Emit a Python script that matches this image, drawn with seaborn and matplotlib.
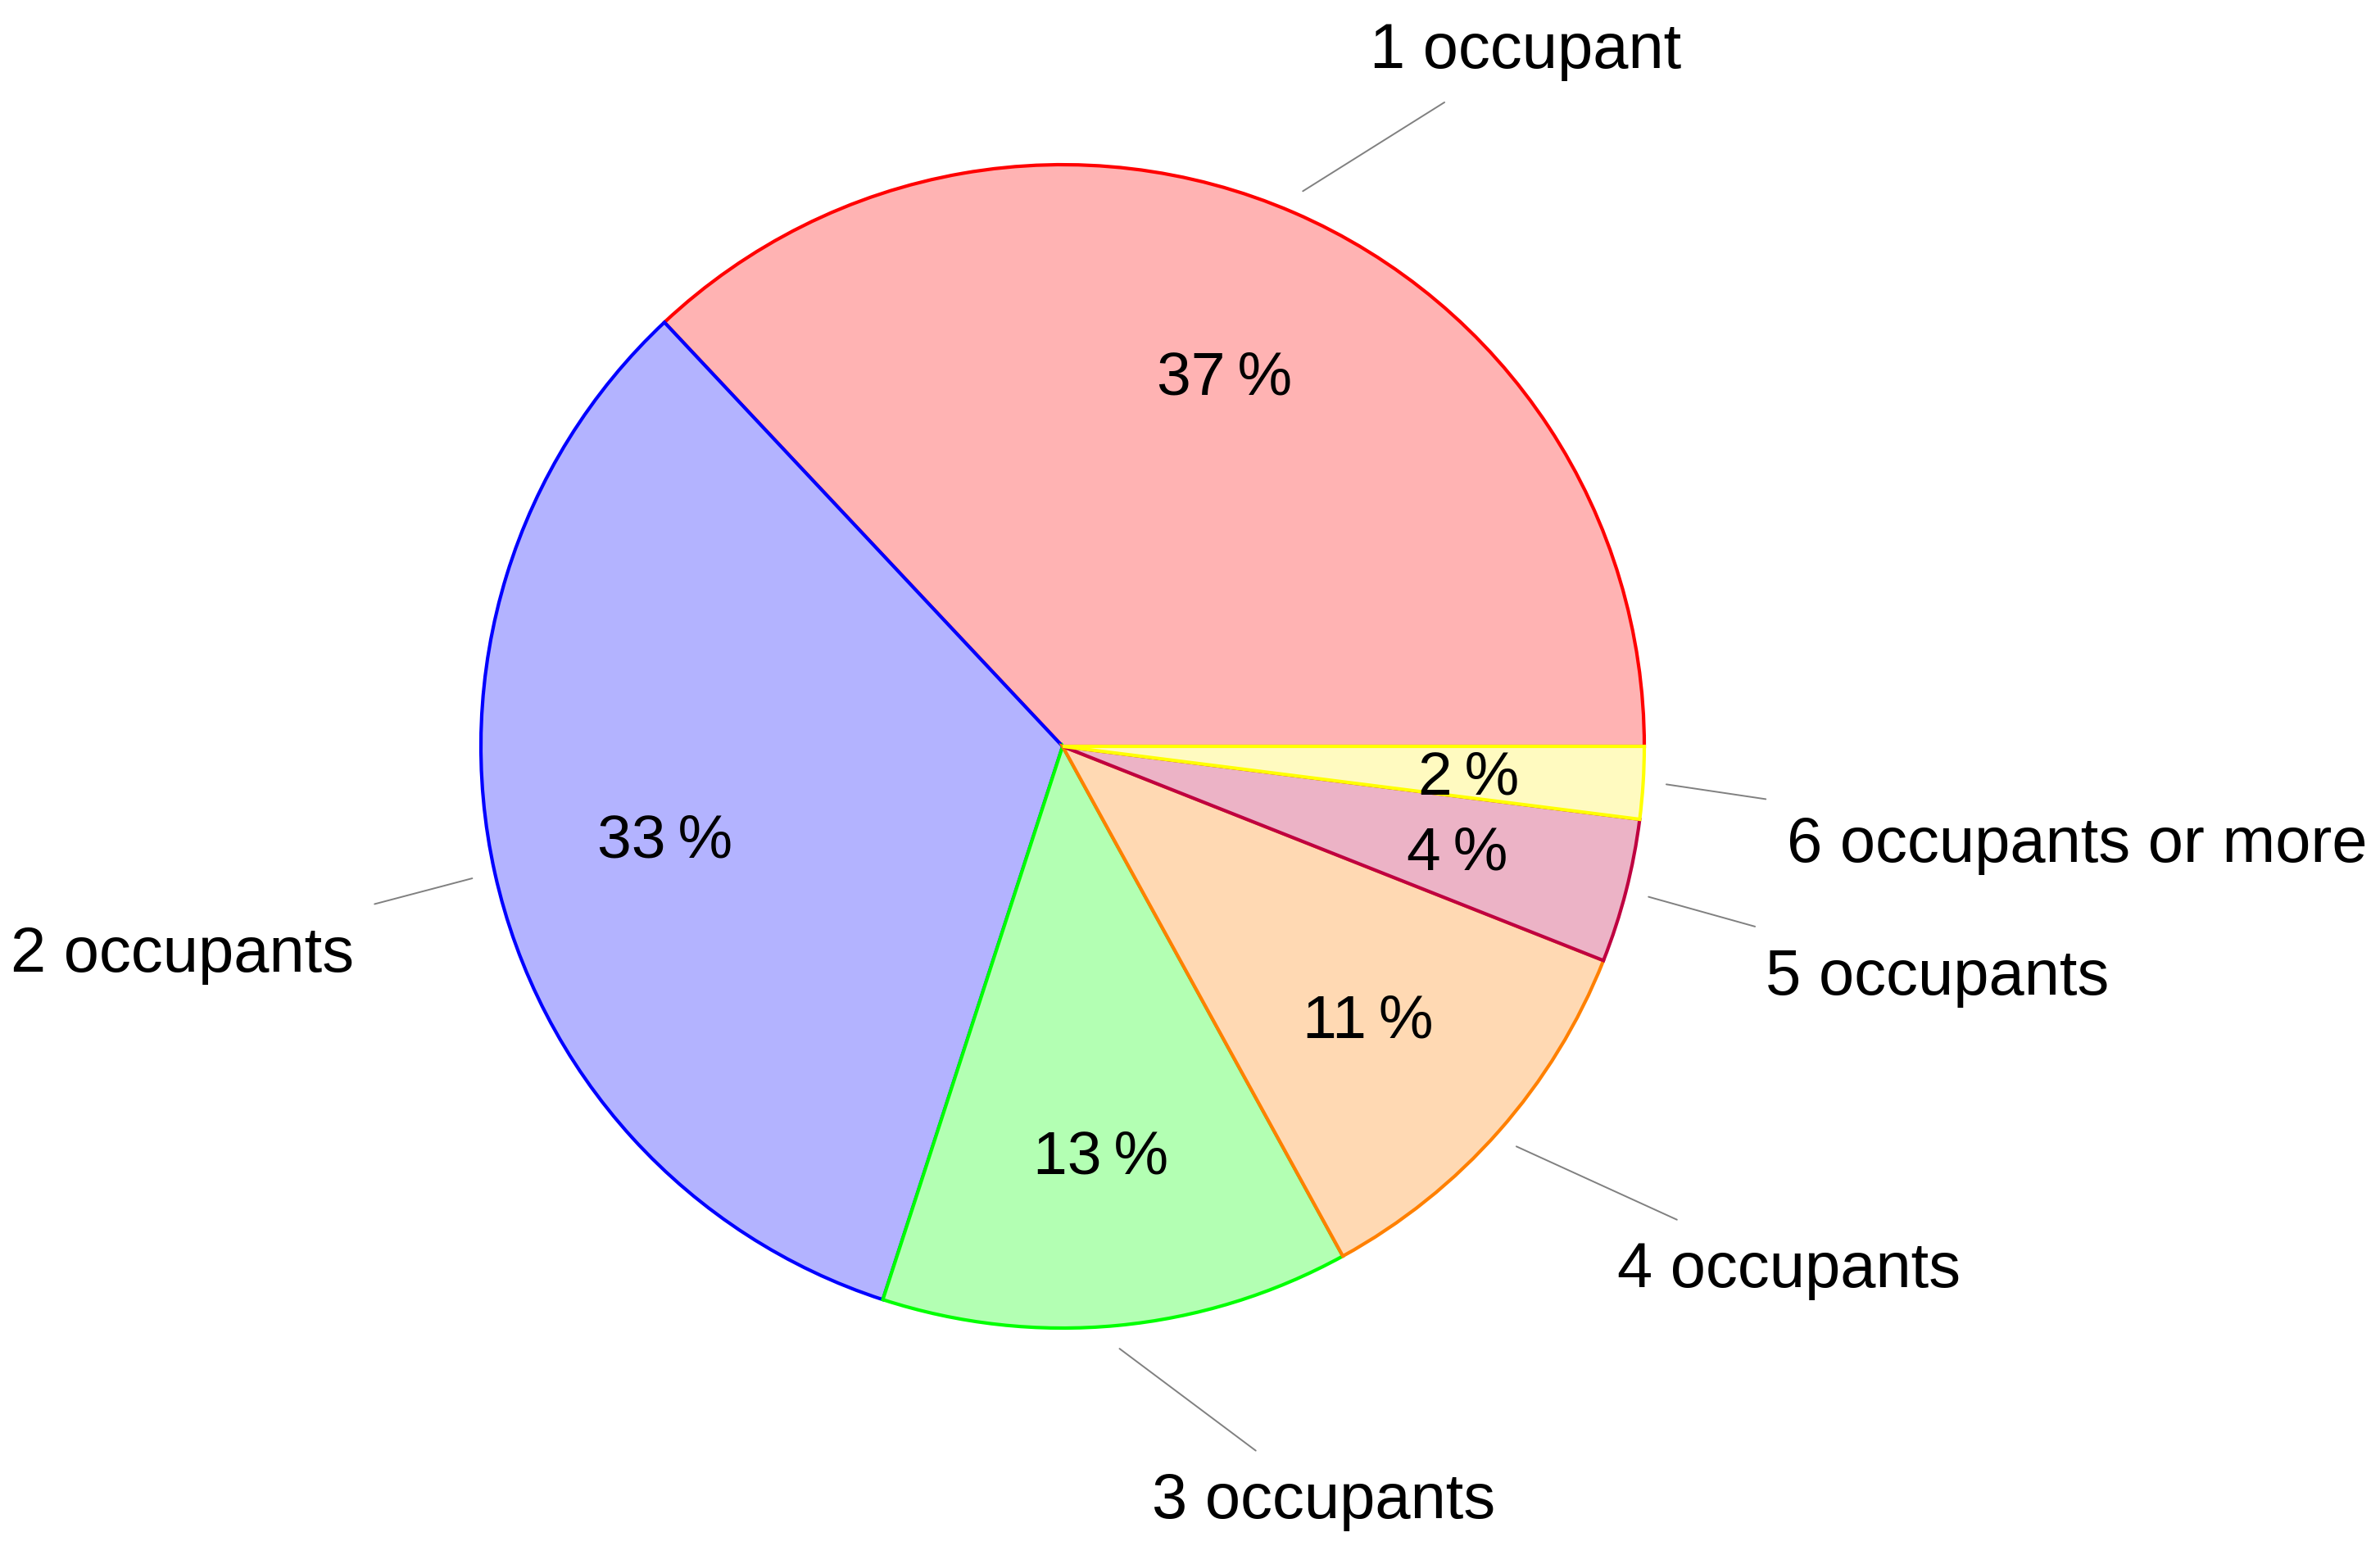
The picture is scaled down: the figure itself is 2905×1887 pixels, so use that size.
import seaborn as sns
import matplotlib.pyplot as plt
import numpy as np

sns.set_theme(style="white")
plt.rcParams['font.family'] = ["Liberation Sans", "DejaVu Sans"]
plt.rcParams['text.color'] = "black"

# data
labels = ["1 occupant", "2 occupants", "3 occupants", "4 occupants",
          "5 occupants", "6 occupants or more"]
shares = [37, 33, 13, 11, 4, 2]

fill_colors = ["#FFB3B3", "#B3B3FF", "#B3FFB3", "#FFD9B3", "#ECB3C6", "#FFFAC0"]
edge_colors = ["#FF0000", "#0000FF", "#00FF00", "#FF8000", "#BF0040", "#FFFF00"]

# where the outer labels sit (in pie-radius units, relative to the centre)
label_pos = [(0.796, 1.206), (-1.514, -0.347), (0.449, -1.287),
             (1.248, -0.890), (1.504, -0.386), (1.744, -0.159)]

W, H = 2905, 1887
R_px = 710.0
cx, cy = 1297.0, 911.0

fig = plt.figure(figsize=(W / 100, H / 100), dpi=100)
ax = fig.add_axes([0, 0, 1, 1])

wedges, _, pcts = ax.pie(
    shares, colors=fill_colors, startangle=0, counterclock=True,
    autopct=lambda p: f"{p:.0f}\u2009%", pctdistance=0.7,
    wedgeprops=dict(linewidth=3),
    textprops=dict(fontsize=54, color="black"))
for w, ec in zip(wedges, edge_colors):
    w.set_edgecolor(ec)
for t in pcts:
    t.set_va("center_baseline")

# outer labels with gray connector lines
for w, lab, (lx, ly) in zip(wedges, labels, label_pos):
    mid = np.deg2rad((w.theta1 + w.theta2) / 2)
    start = (1.04 * np.cos(mid), 1.04 * np.sin(mid))
    ax.annotate(lab, xy=start, xytext=(lx, ly), fontsize=56, color="black",
                ha="center", va="center_baseline",
                bbox=dict(boxstyle="square,pad=0.33", fc="none", ec="none"),
                arrowprops=dict(arrowstyle="-", color="#808080", lw=1.4,
                                shrinkA=0, shrinkB=0))

ax.set_aspect("auto")
ax.set_xlim(-cx / R_px, (W - cx) / R_px)
ax.set_ylim(-(H - cy) / R_px, cy / R_px)
ax.axis("off")

fig.savefig("out.png", dpi=100)
